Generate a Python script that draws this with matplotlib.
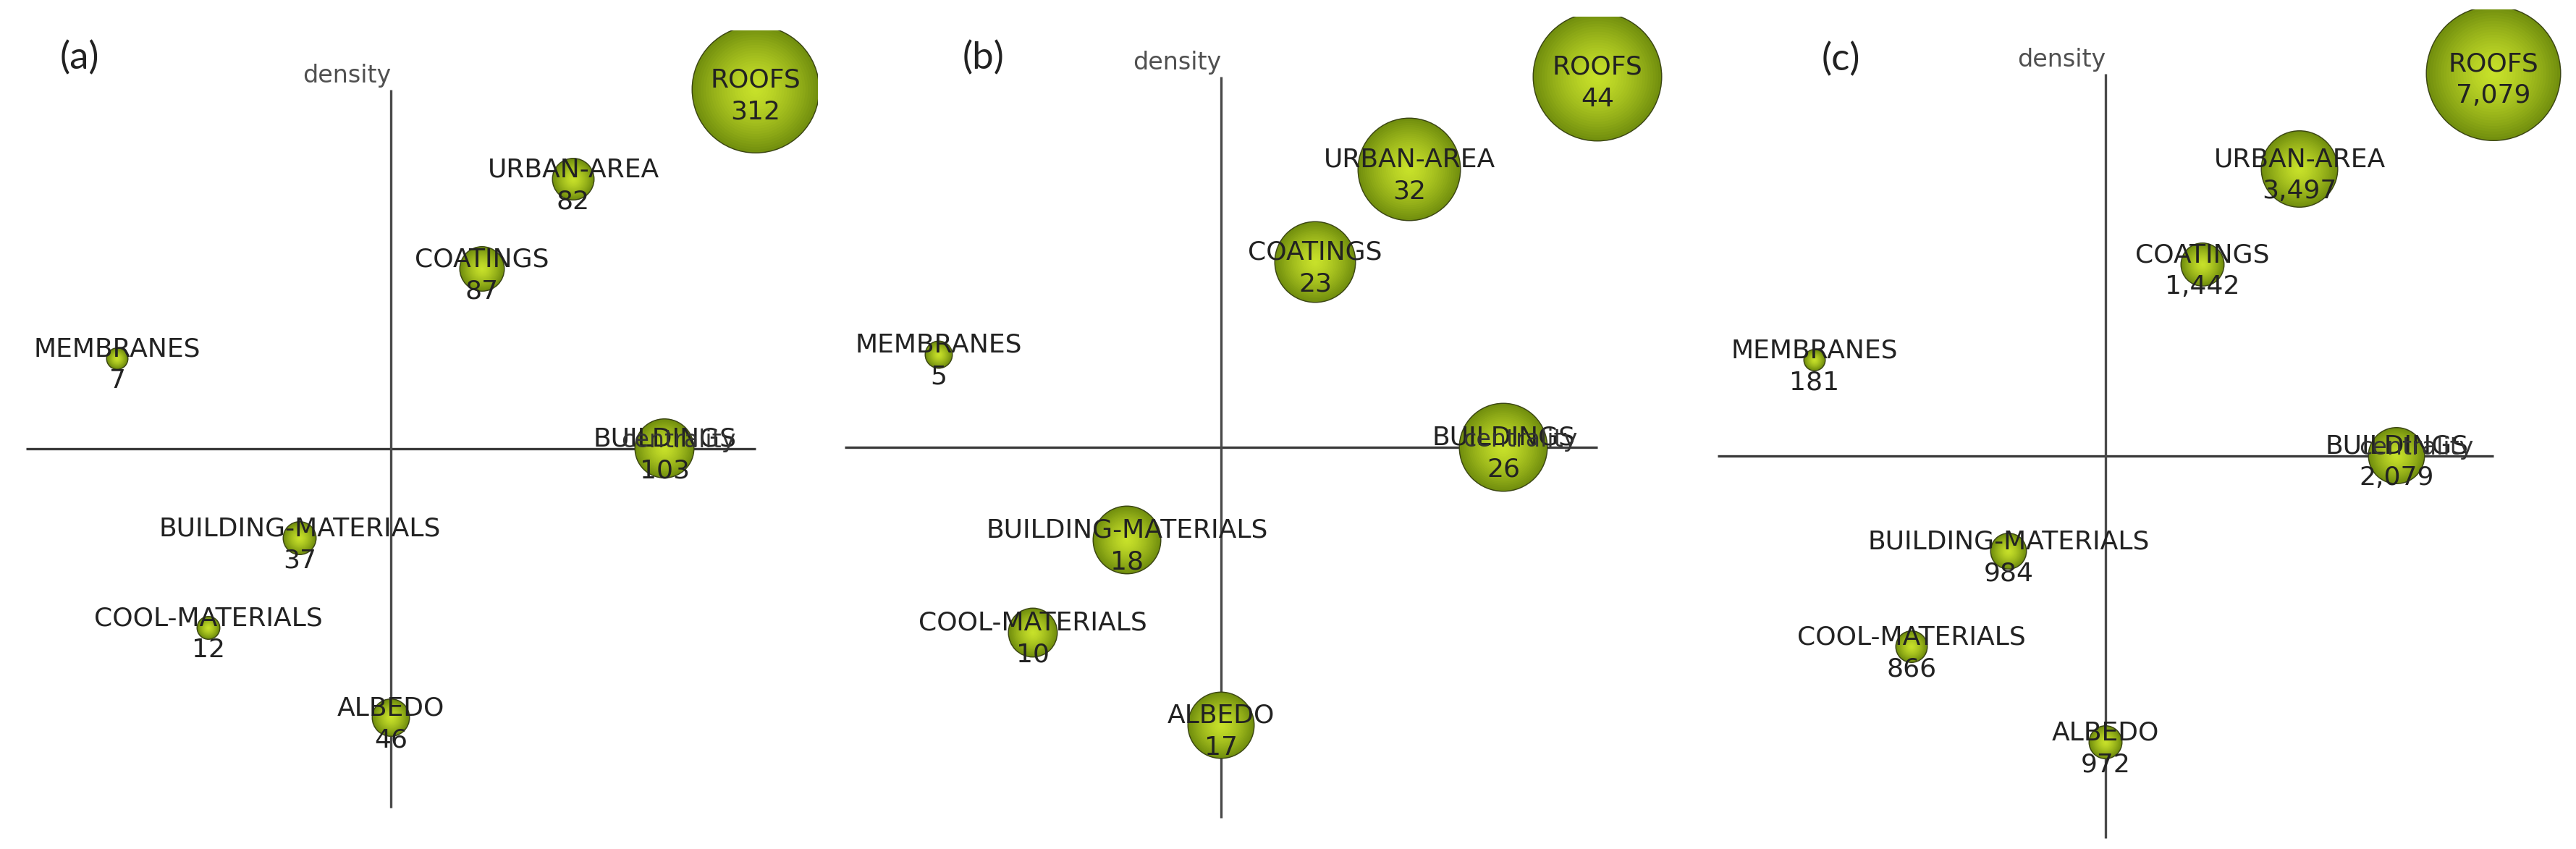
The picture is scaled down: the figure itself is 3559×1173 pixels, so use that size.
import numpy as np
import matplotlib.pyplot as plt
from matplotlib.colors import to_rgb

W, H, DPI = 3559, 1173, 100

# themes and their rank position on the strategic diagram
terms = ['ROOFS', 'URBAN-AREA', 'COATINGS', 'MEMBRANES', 'BUILDINGS',
         'BUILDING-MATERIALS', 'COOL-MATERIALS', 'ALBEDO']
centrality = [4, 2, 1, -3, 3, -1, -2, 0]
density = [4, 3, 2, 1, 0, -1, -2, -3]

# numbers printed under each theme
values_a = [312, 82, 87, 7, 103, 37, 12, 46]
values_b = [44, 32, 23, 5, 26, 18, 10, 17]
values_c = [7079, 3497, 1442, 181, 2079, 984, 866, 972]

# sphere radius (px)
size_a = [87, 28, 30, 14, 40, 22, 15, 25]
size_b = [88, 70, 55, 18, 60, 46, 33, 45]
size_c = [92, 52, 29, 14, 38, 24, 21, 22]

# layout of each panel in pixels: clip box (l, r, top, bottom), origin, step per rank
panels = [
    dict(tag='(a)', vals=values_a, size=size_a, box=(0, 1130, 42, 1173),
         origin=(540, 619.5), step=(126, 124), tagpos=(110, 80)),
    dict(tag='(b)', vals=values_b, size=size_b, box=(1150, 2330, 23, 1173),
         origin=(1687, 618), step=(130, 128), tagpos=(1359, 80)),
    dict(tag='(c)', vals=values_c, size=size_c, box=(2340, 3540, 13, 1173),
         origin=(2909, 629.5), step=(134, 132), tagpos=(2543, 82)),
]

outer = np.array(to_rgb('#73900e'))
inner = np.array(to_rgb('#c8e12a'))
edge = '#3c4714'
txt = '#222222'
FS = 26

fig = plt.figure(figsize=(W / DPI, H / DPI), dpi=DPI)

for p in panels:
    l, r, t, b = p['box']
    ox, oy = p['origin']
    sx, sy = p['step']
    ax = fig.add_axes([l / W, 1 - b / H, (r - l) / W, (b - t) / H])
    ax.set_xlim((l - ox) / sx, (r - ox) / sx)
    ax.set_ylim((oy - b) / sy, (oy - t) / sy)
    ax.axis('off')

    # quadrant axes
    ax.plot([-4, 4], [0, 0], color='#3a3a3a', lw=2.4, zorder=1, solid_capstyle='butt')
    ax.plot([0, 0], [-4, 4], color='#4a4a4a', lw=2.4, zorder=1, solid_capstyle='butt')
    ax.annotate('density', (0, 4), xytext=(0, 2), textcoords='offset points',
                ha='right', va='bottom', fontsize=24, color='#505050')
    ax.annotate('centrality', (4, 0), xytext=(-20, 1), textcoords='offset points',
                ha='right', va='baseline', fontsize=24, color='#333333', zorder=6)

    # shaded spheres
    rad = np.array(p['size'], dtype=float)
    x = np.array(centrality)
    y = np.array(density)
    ax.scatter(x, y, s=(2 * (rad + 1.5) * 72 / DPI) ** 2, color=edge, zorder=3, linewidths=0)
    n = 24
    for k in range(n):
        f = 1 - k / n
        c = outer + (inner - outer) * (1 - f ** 1.4)
        ax.scatter(x, y, s=(2 * rad * f * 72 / DPI) ** 2, color=c, zorder=3 + k * 0.01,
                   linewidths=0)

    for term, xi, yi, v in zip(terms, centrality, density, p['vals']):
        ax.annotate(term, (xi, yi), xytext=(0, 9.4), textcoords='offset points',
                    ha='center', va='center', fontsize=FS, color=txt, zorder=5)
        ax.annotate('{:,}'.format(v), (xi, yi), xytext=(0, -22.3),
                    textcoords='offset points', ha='center', va='center',
                    fontsize=FS, color=txt, zorder=5)

    fig.text(p['tagpos'][0] / W, 1 - p['tagpos'][1] / H, p['tag'],
             ha='center', va='center', fontsize=38, family=['Lato', 'DejaVu Sans'],
             color='#222222')

fig.savefig('out.png', dpi=DPI, facecolor='white')
